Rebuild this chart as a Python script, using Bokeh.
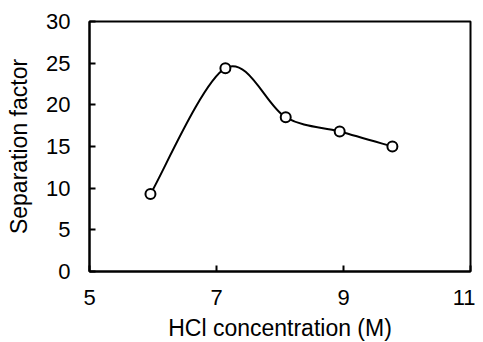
from bokeh.plotting import figure
from bokeh.models import FixedTicker, Range1d
from bokeh.embed import file_html
from bokeh.resources import INLINE

hcl = [5.96, 7.14, 8.09, 8.94, 9.77]
sep = [9.3, 24.4, 18.5, 16.8, 15.0]
x_ticks = [5, 7, 9, 11]
y_ticks = [0, 5, 10, 15, 20, 25, 30]

FONT = "Liberation Sans"

p = figure(frame_width=381, frame_height=250, output_backend="svg", toolbar_location=None,
           x_range=Range1d(5, 11), y_range=Range1d(0, 30),
           min_border_left=89, min_border_top=21, min_border_right=5, min_border_bottom=63)
p.grid.visible = False
p.outline_line_color = "black"
p.outline_line_width = 2
p.background_fill_color = "white"
p.border_fill_color = "white"

for ax in (p.xaxis[0], p.yaxis[0]):
    ax.axis_line_width = 2
    ax.axis_line_color = "black"
    ax.major_tick_in = 6
    ax.major_tick_out = 0
    ax.major_tick_line_width = 2
    ax.minor_tick_line_color = None
    ax.major_label_text_font = FONT
    ax.major_label_text_font_size = "22px"
    ax.major_label_text_color = "black"
    ax.axis_label_text_font = FONT
    ax.axis_label_text_font_size = "23px"
    ax.axis_label_text_font_style = "normal"
    ax.axis_label_text_color = "black"

p.xaxis.ticker = FixedTicker(ticks=x_ticks)
p.yaxis.ticker = FixedTicker(ticks=y_ticks)
p.xaxis.major_label_standoff = 18
p.yaxis.major_label_standoff = 19
p.xaxis.axis_label = "HCl concentration (M)"
p.yaxis.axis_label = "Separation factor"
p.xaxis.axis_label_standoff = 7
p.yaxis.axis_label_standoff = 11

# smoothed line (Catmull-Rom style Bezier segments through the data points)
n = len(hcl)
x0s, y0s, x1s, y1s, cx0, cy0, cx1, cy1 = [], [], [], [], [], [], [], []
for i in range(n - 1):
    pi_ = max(i - 1, 0)
    ni = min(i + 2, n - 1)
    x0s.append(hcl[i]); y0s.append(sep[i])
    x1s.append(hcl[i + 1]); y1s.append(sep[i + 1])
    cx0.append(hcl[i] + (hcl[i + 1] - hcl[pi_]) / 6)
    cy0.append(sep[i] + (sep[i + 1] - sep[pi_]) / 6)
    cx1.append(hcl[i + 1] - (hcl[ni] - hcl[i]) / 6)
    cy1.append(sep[i + 1] - (sep[ni] - sep[i]) / 6)
p.bezier(x0=x0s, y0=y0s, x1=x1s, y1=y1s, cx0=cx0, cy0=cy0, cx1=cx1, cy1=cy1,
         line_color="black", line_width=2)
p.scatter(hcl, sep, size=10, marker="circle", fill_color="white",
          line_color="black", line_width=2)

open("out.html", "w").write(file_html(p, INLINE))
